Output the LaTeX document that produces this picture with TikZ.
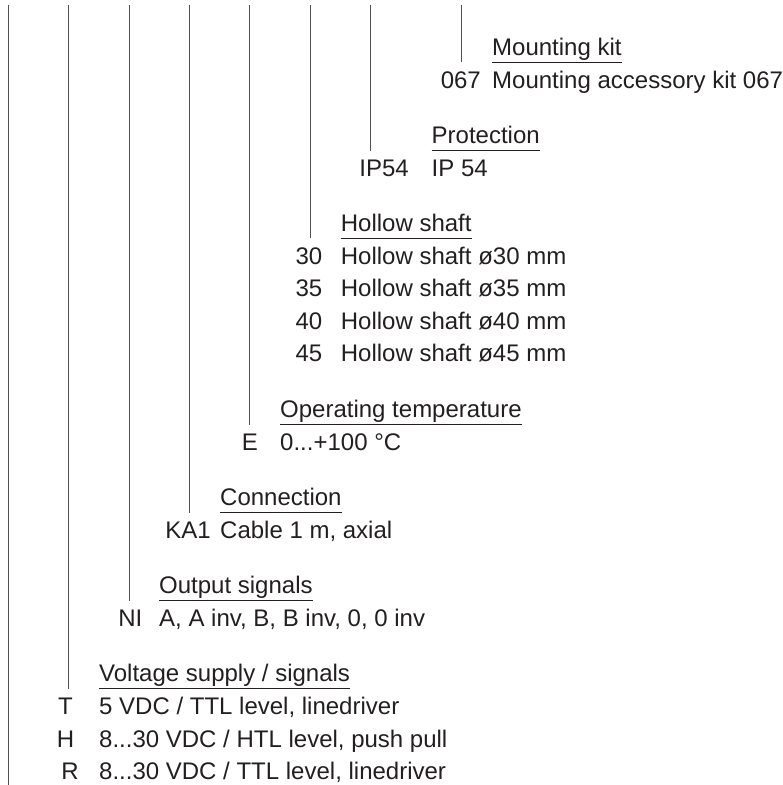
\documentclass[tikz,border=0pt]{standalone}
\usepackage{fontspec}
\setmainfont{Liberation Sans}
\definecolor{txt}{RGB}{35,31,32}
\definecolor{ln}{RGB}{80,80,80}
\begin{document}
\begin{tikzpicture}[x=1pt,y=-1pt,
  every node/.style={font=\fontsize{24}{28}\selectfont, text=txt, inner sep=0pt},
  hdr/.style={anchor=base west, text depth=7pt},
  desc/.style={anchor=base west},
  code/.style={anchor=base east},
  uline/.style={draw=txt, line width=0.9pt},
  vline/.style={draw=ln, line width=0.9pt}]
\useasboundingbox (0,0) rectangle (783,785);
% top ends of the vertical lines
\coordinate (t0) at (8,5);
\coordinate (t1) at (68.3,5);
\coordinate (t2) at (129,5);
\coordinate (t3) at (189.3,5);
\coordinate (t4) at (249.7,5);
\coordinate (t5) at (310.3,5);
\coordinate (t6) at (370.7,5);
\coordinate (t7) at (461.7,5);
\coordinate (b0) at (8,785);
\begin{scope}[yshift=-2pt]
% Mounting kit
\node[hdr] (h7) at (492,53) {Mounting kit};
\node[code] (c7) at (481,86) {067};
\node[desc] (d7) at (492,86) {Mounting accessory kit 067};
% Protection
\node[hdr] (h6) at (431.5,141.5) {Protection};
\node[code] (c6) at (409,174.5) {IP54};
\node[desc] (d6) at (431.5,174.5) {IP 54};
% Hollow shaft
\node[hdr] (h5) at (340.7,229) {Hollow shaft};
\node[code] (c5a) at (322.5,262) {30};
\node[desc] (d5a) at (340.7,262) {Hollow shaft ø30 mm};
\node[code] (c5b) at (322.5,294.5) {35};
\node[desc] (d5b) at (340.7,294.5) {Hollow shaft ø35 mm};
\node[code] (c5c) at (322.5,327) {40};
\node[desc] (d5c) at (340.7,327) {Hollow shaft ø40 mm};
\node[code] (c5d) at (322.5,359.5) {45};
\node[desc] (d5d) at (340.7,359.5) {Hollow shaft ø45 mm};
% Operating temperature
\node[hdr] (h4) at (280,415.5) {Operating temperature};
\node[code] (c4) at (258,448.5) {E};
\node[desc] (d4) at (280,448.5) {0...+100 °C};
% Connection
\node[hdr] (h3) at (220,503.5) {Connection};
\node[code] (c3) at (211,536) {KA1};
\node[desc] (d3) at (220,536) {Cable 1 m, axial};
% Output signals
\node[hdr] (h2) at (159,591.5) {Output signals};
\node[code] (c2) at (142.5,624) {NI};
\node[desc] (d2) at (159,624) {A, A inv, B, B inv, 0, 0 inv};
% Voltage supply / signals
\node[hdr] (h1) at (99,679.5) {Voltage supply / signals};
\node[code] (c1a) at (73,712.5) {T};
\node[desc] (d1a) at (99,712.5) {5 VDC / TTL level, linedriver};
\node[code] (c1b) at (74.5,745) {H};
\node[desc] (d1b) at (99,745) {8...30 VDC / HTL level, push pull};
\node[code] (c1c) at (79,777.5) {R};
\node[desc] (d1c) at (99,777.5) {8...30 VDC / TTL level, linedriver};
\end{scope}
% underlines
\foreach \h in {h1,h2,h3,h4,h5,h6,h7}
  \draw[uline] (\h.south west) -- (\h.south east);
% vertical lines
\draw[vline] (t0) -- (b0);
\draw[vline] (t1) -- (t1 |- h1.south);
\draw[vline] (t2) -- (t2 |- h2.south);
\draw[vline] (t3) -- (t3 |- h3.south);
\draw[vline] (t4) -- (t4 |- h4.south);
\draw[vline] (t5) -- (t5 |- h5.south);
\draw[vline] (t6) -- (t6 |- h6.south);
\draw[vline] (t7) -- (t7 |- h7.south);
\end{tikzpicture}
\end{document}
